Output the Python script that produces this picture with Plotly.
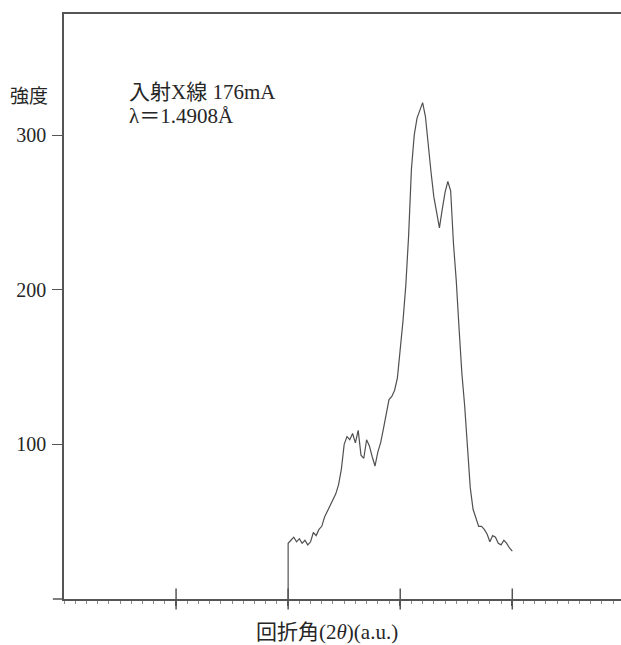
import plotly.graph_objects as go

# Diffraction scan: diffraction angle (arbitrary units) vs. intensity
angle = [20.0, 20.0, 20.25, 20.5, 20.75, 21.0, 21.25, 21.5, 21.75, 22.0,
         22.25, 22.5, 22.75, 23.0, 23.25, 23.5, 23.75, 24.0, 24.25, 24.5,
         24.75, 25.0, 25.25, 25.5, 25.75, 26.0, 26.25, 26.5, 26.75, 27.0,
         27.25, 27.5, 27.75, 28.0, 28.25, 28.5, 28.75, 29.0, 29.25, 29.5,
         29.75, 30.0, 30.25, 30.5, 30.75, 31.0, 31.25, 31.5, 31.75, 32.0,
         32.25, 32.5, 32.75, 33.0, 33.25, 33.5, 33.75, 34.0, 34.25, 34.5,
         34.75, 35.0, 35.25, 35.5, 35.75, 36.0, 36.25, 36.5, 36.75, 37.0,
         37.25, 37.5, 37.75, 38.0, 38.25, 38.5, 38.75, 39.0, 39.25, 39.5,
         39.75, 40.0]
intensity = [0, 36, 38, 40, 37, 39, 36, 38, 35, 37,
             43, 41, 45, 47, 53, 57, 61, 64, 68, 74,
             84, 100, 105, 103, 107, 101, 109, 93, 91, 103,
             99, 92, 86, 95, 101, 110, 119, 129, 131, 135,
             143, 160, 180, 203, 235, 278, 300, 311, 316, 321,
             312, 292, 276, 260, 250, 240, 252, 263, 270, 264,
             230, 206, 175, 146, 125, 98, 72, 58, 53, 47,
             47, 45, 42, 37, 41, 40, 36, 35, 38, 36,
             33, 31]

y_ticks = [100, 200, 300]
y_tick_text = ["100", "200", "300"]
x_major = [10, 20, 30, 40]

SERIF = "Liberation Serif, Noto Sans CJK JP, serif"
INK = "#262626"
FRAME = "#555555"

fig = go.Figure()
fig.add_trace(go.Scatter(
    x=angle, y=intensity, mode="lines",
    line=dict(color="#505050", width=1.2),
    showlegend=False, hoverinfo="skip",
))
# major ticks that cross the baseline
fig.add_trace(go.Scatter(
    x=x_major, y=[0] * len(x_major), mode="markers", cliponaxis=False,
    marker=dict(symbol="line-ns-open", size=15, color=FRAME,
                line=dict(color=FRAME, width=1.5)),
    showlegend=False, hoverinfo="skip",
))

fig.update_layout(
    width=621, height=645,
    margin=dict(l=64, r=0, t=14, b=46),
    paper_bgcolor="white", plot_bgcolor="white",
    font=dict(family=SERIF, color=INK, size=20),
    xaxis=dict(
        range=[0, 49.7], showgrid=False, zeroline=False,
        showline=True, mirror=True, linecolor=FRAME, linewidth=1.5,
        tickmode="array", tickvals=x_major, ticks="outside", ticklen=5,
        tickwidth=1.5, tickcolor=FRAME, showticklabels=False,
        minor=dict(ticks="outside", ticklen=3, tickwidth=1.3,
                   tickcolor="#8a8a8a", dtick=1, tick0=0),
    ),
    yaxis=dict(
        range=[0, 378.3], showgrid=False, zeroline=False,
        showline=True, mirror=False, linecolor=FRAME, linewidth=1.5,
        tickmode="array", tickvals=y_ticks, ticktext=y_tick_text,
        ticks="outside", ticklen=10, tickwidth=1.3, tickcolor=FRAME,
        ticklabelstandoff=2, tickfont=dict(size=20, family=SERIF, color=INK),
    ),
    shapes=[
        # baseline continues a little to the left of the frame
        dict(type="line", xref="paper", yref="paper",
             x0=-0.02, x1=0, y0=0, y1=0,
             line=dict(color=FRAME, width=1.5)),
    ],
    annotations=[
        dict(text="強度", xref="paper", yref="paper",
             x=-0.063, y=(598.5 - 96) / 584.5, xanchor="center", yanchor="middle",
             showarrow=False, font=dict(size=19, family=SERIF, color=INK)),
        dict(text="入射X線 176mA", xref="paper", yref="paper",
             x=(127 - 64) / 557, y=(598.5 - 92) / 584.5,
             xanchor="left", yanchor="middle", showarrow=False,
             font=dict(size=21, family=SERIF, color=INK)),
        dict(text="λ＝1.4908Å", xref="paper", yref="paper",
             x=(127 - 64) / 557, y=(598.5 - 116) / 584.5,
             xanchor="left", yanchor="middle", showarrow=False,
             font=dict(size=21, family=SERIF, color=INK)),
        dict(text="回折角(2<i>θ</i>)(a.u.)", xref="paper", yref="paper",
             x=(327 - 64) / 557, y=0, yshift=-33,
             xanchor="center", yanchor="middle", showarrow=False,
             font=dict(size=21, family=SERIF, color=INK)),
    ],
)

fig.write_html("out.html")
